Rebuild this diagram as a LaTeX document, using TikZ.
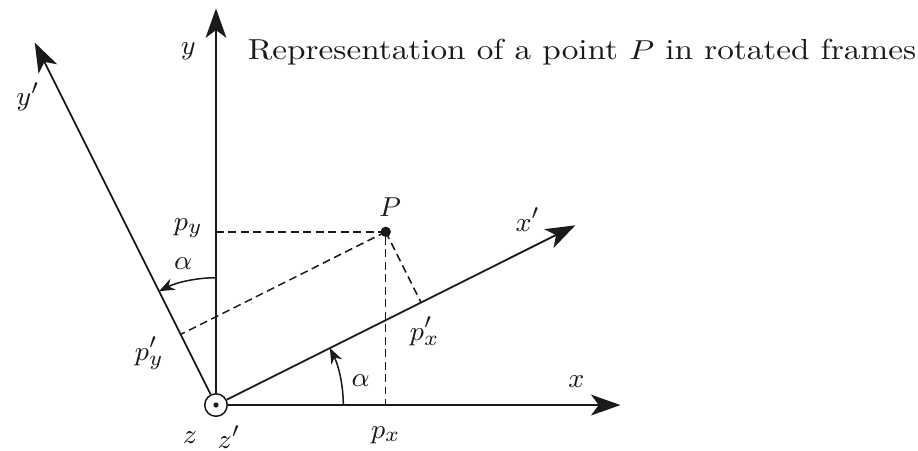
\documentclass[tikz,border=0pt]{standalone}
\usetikzlibrary{arrows.meta,positioning,calc}
\definecolor{frameInk}{HTML}{1A1A1A}
\tikzset{
  every picture/.style={font=\fontsize{9.5}{11}\selectfont, text=frameInk},
  frame axis/.style={draw=frameInk, line width=0.6pt,
    -{Stealth[length=3.4mm,width=2.4mm,inset=0.9mm]}},
  frame proj/.style={draw=frameInk, line width=0.5pt, dash pattern=on 2.6pt off 1.5pt},
  frame angle/.style={draw=frameInk, line width=0.5pt,
    -{Stealth[length=1.8mm,width=1.4mm]}},
  frame origin/.style={circle, draw=frameInk, line width=0.5pt,
    minimum size=2.6mm, inner sep=0pt}
}

\begin{document}
\begin{tikzpicture}[x=1cm,y=1cm]
  \useasboundingbox (-2.494,-0.520) rectangle (8.106,4.677);
  \node[frame origin] (O) at (0,0) {};
  \fill[frameInk] (O.center) circle (0.3mm);
  \coordinate (xTip) at (4.67,0);
  \coordinate (yTip) at (0,4.58);
  \coordinate (xpTip) at (26.57:4.64);
  \coordinate (ypTip) at (116.57:4.68);
  \coordinate (P) at (1.96,2.0);
  \coordinate (Px) at (P |- O);
  \coordinate (Py) at (P -| O);
  \coordinate (Ppx) at ($(O)!(P)!(xpTip)$);
  \coordinate (Ppy) at ($(O)!(P)!(ypTip)$);
  % axes of both frames
  \draw[frame axis] (O) -- (xTip);
  \draw[frame axis] (O) -- (yTip);
  \draw[frame axis] (O) -- (xpTip);
  \draw[frame axis] (O) -- (ypTip);
  % projections of P
  \draw[frame proj] (Py) -- (P) -- (Px);
  \draw[frame proj] (P) -- (Ppx);
  \draw[frame proj] (P) -- (Ppy);
  \fill[frameInk] (P) circle (0.06);
  % rotation angles
  \draw[frame angle] (1.47,0) arc[start angle=0,end angle=26.57,radius=1.47];
  \draw[frame angle] (0,1.47) arc[start angle=90,end angle=116.57,radius=1.47];
  \node (xLbl) at (4.16,0.27) {$x$};
  \node (yLbl) at (-0.32,4.08) {$y$};
  \node (xpLbl) at (3.60,2.14) {$x'$};
  \node (ypLbl) at (-2.17,3.56) {$y'$};
  \node (PLbl) at (2.01,2.29) {$P$};
  \node (pyLbl) at (-0.32,2.04) {$p_y$};
  \node (ppyLbl) at (-0.77,0.60) {$p'_y$};
  \node (ppxLbl) at (2.41,0.85) {$p'_x$};
  \node (pxLbl) at (1.96,-0.35) {$p_x$};
  \node (zLbl) at (-0.30,-0.38) {$z$};
  \node (zpLbl) at (0.15,-0.37) {$z'$};
  \node (aLow) at (1.67,0.28) {$\alpha$};
  \node (aUp) at (-0.38,1.63) {$\alpha$};
  \node[anchor=west,inner sep=0pt,xscale=1.15,transform shape] (title) at (0.36,4.08)
    {Representation of a point $P$ in rotated frames};
\end{tikzpicture}
\end{document}
